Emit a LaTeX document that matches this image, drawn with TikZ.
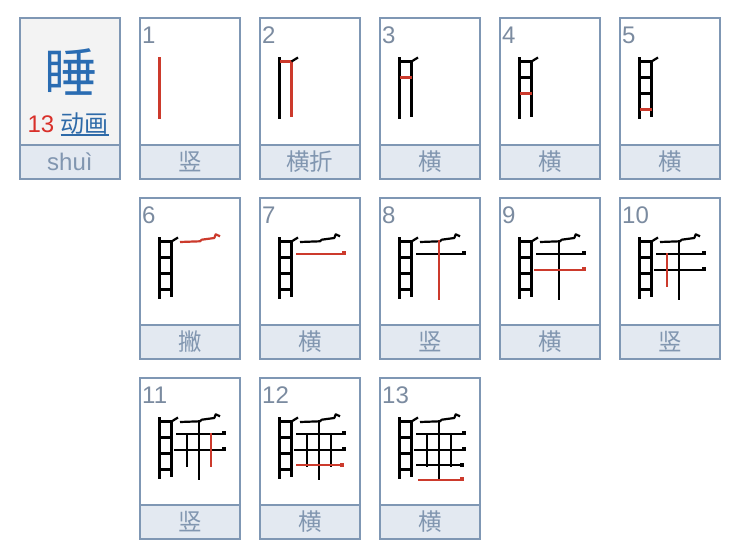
\documentclass[tikz,border=0pt]{standalone}
\usepackage{fontspec}
\setmainfont{Liberation Sans}
\newfontfamily\cjk{Noto Sans CJK SC}
\definecolor{cardborder}{HTML}{7F97B4}
\definecolor{stripfill}{HTML}{E3E9F1}
\definecolor{labeltext}{HTML}{8196B0}
\definecolor{numtext}{HTML}{7B8BA0}
\definecolor{firstfill}{HTML}{F3F3F3}
\definecolor{strokered}{HTML}{CC3A2C}
\definecolor{charblue}{HTML}{2A6CB2}
\definecolor{linkblue}{HTML}{2E6AA8}
\definecolor{countred}{HTML}{D9302A}
\tikzset{
  cardbox/.style={draw=cardborder, line width=1.8pt, minimum width=100pt, minimum height=161pt, inner sep=0pt, anchor=north west},
  stripbox/.style={draw=cardborder, fill=stripfill, line width=1.8pt, minimum width=100pt, minimum height=34pt, inner sep=0pt, anchor=north west},
  numlabel/.style={text=numtext, font=\fontsize{24}{24}\selectfont, inner sep=0pt, anchor=base west},
  namelabel/.style={text=labeltext, font=\cjk\fontsize{23.5}{23.5}\selectfont, inner sep=0pt},
  stk/.style={line width=2.2pt, line cap=butt, line join=round},
}
\newcommand\drawstk[2]{%
\ifcase#1\or
\draw[stk,#2] (20.5,40) -- (20.5,101.5);%1
\or
\draw[stk,#2] (20.5,44.5) -- (32.5,44.5) -- (32.5,100);\draw[stk,black] (32.5,44.5) -- (39,40.5);%2
\or
\draw[stk,#2] (20.5,60.5) -- (32.5,60.5);%3
\or
\draw[stk,#2] (20.5,76.5) -- (32.5,76.5);%4
\or
\draw[stk,#2] (20.5,92.5) -- (32.5,92.5);%5
\or
\draw[stk,#2] (41,45) -- (61,44.3) -- (62.7,42.7) -- (75.3,41) -- (76.7,37.3) -- (81,39.3);%6
\or
\draw[stk,#2] (37,56.7) -- (86.7,56.7);\fill[#2] (83,54.4) rectangle (87,58.2);%7
\or
\draw[stk,#2] (60,42.7) -- (60,103.3);%8
\or
\draw[stk,#2] (35.3,72.7) -- (86.7,72.7);\fill[#2] (83,70.4) rectangle (87,74.2);%9
\or
\draw[stk,#2] (48.3,56) -- (48.3,90);%10
\or
\draw[stk,#2] (72,56) -- (72,90);%11
\or
\draw[stk,#2] (37,88.3) -- (84.3,88.3);\fill[#2] (80.6,86) rectangle (84.6,89.8);%12
\or
\draw[stk,#2] (39.3,102.7) -- (84.3,102.7);\fill[#2] (80.6,100.4) rectangle (84.6,104.2);%13
\fi}
\newcommand\strokecard[5]{% name, x, y, count, label
  \node[cardbox] (#1) at (#2,#3) {};
  \node[stripbox] (#1s) at ({#2},{#3+127}) {};
  \node[namelabel] (#1l) at (#1s.center) {#5};
  \node[numlabel] (#1n) at ({#2+3},{#3+26}) {#4};
  \begin{scope}[shift={(#2,#3)}]
    \foreach \i in {1,...,#4} {\ifnum\i=#4\relax \drawstk{\i}{strokered}\else \drawstk{\i}{black}\fi}
  \end{scope}
}
\begin{document}
\begin{tikzpicture}[x=1pt,y=-1pt]
\useasboundingbox[fill=white] (0,0) rectangle (750,554);
% first card
\node[cardbox, fill=firstfill] (c0) at (19,17) {};
\node[stripbox] (c0s) at (19,144) {};
\node[text=labeltext, font=\fontsize{24}{24}\selectfont, inner sep=0pt] (c0l) at (c0s.center) {shuì};
\node[text=charblue, font=\cjk\fontsize{53}{53}\selectfont, inner sep=0pt] (c0c) at (71,72) {睡};
\node[text=countred, font=\fontsize{24}{24}\selectfont, inner sep=0pt, anchor=base west] (c0n) at (27.4,132) {13};
\node[text=linkblue, font=\cjk\fontsize{24}{24}\selectfont, inner sep=0pt, anchor=base west] (c0a) at (60.5,132) {动画};
\draw[linkblue, line width=1.2pt] (c0a.south west |- 0,135) -- (c0a.south east |- 0,135);
% stroke cards
\strokecard{c1}{139}{17}{1}{竖}
\strokecard{c2}{259}{17}{2}{横折}
\strokecard{c3}{379}{17}{3}{横}
\strokecard{c4}{499}{17}{4}{横}
\strokecard{c5}{619}{17}{5}{横}
\strokecard{c6}{139}{197}{6}{撇}
\strokecard{c7}{259}{197}{7}{横}
\strokecard{c8}{379}{197}{8}{竖}
\strokecard{c9}{499}{197}{9}{横}
\strokecard{c10}{619}{197}{10}{竖}
\strokecard{c11}{139}{377}{11}{竖}
\strokecard{c12}{259}{377}{12}{横}
\strokecard{c13}{379}{377}{13}{横}
\end{tikzpicture}
\end{document}
